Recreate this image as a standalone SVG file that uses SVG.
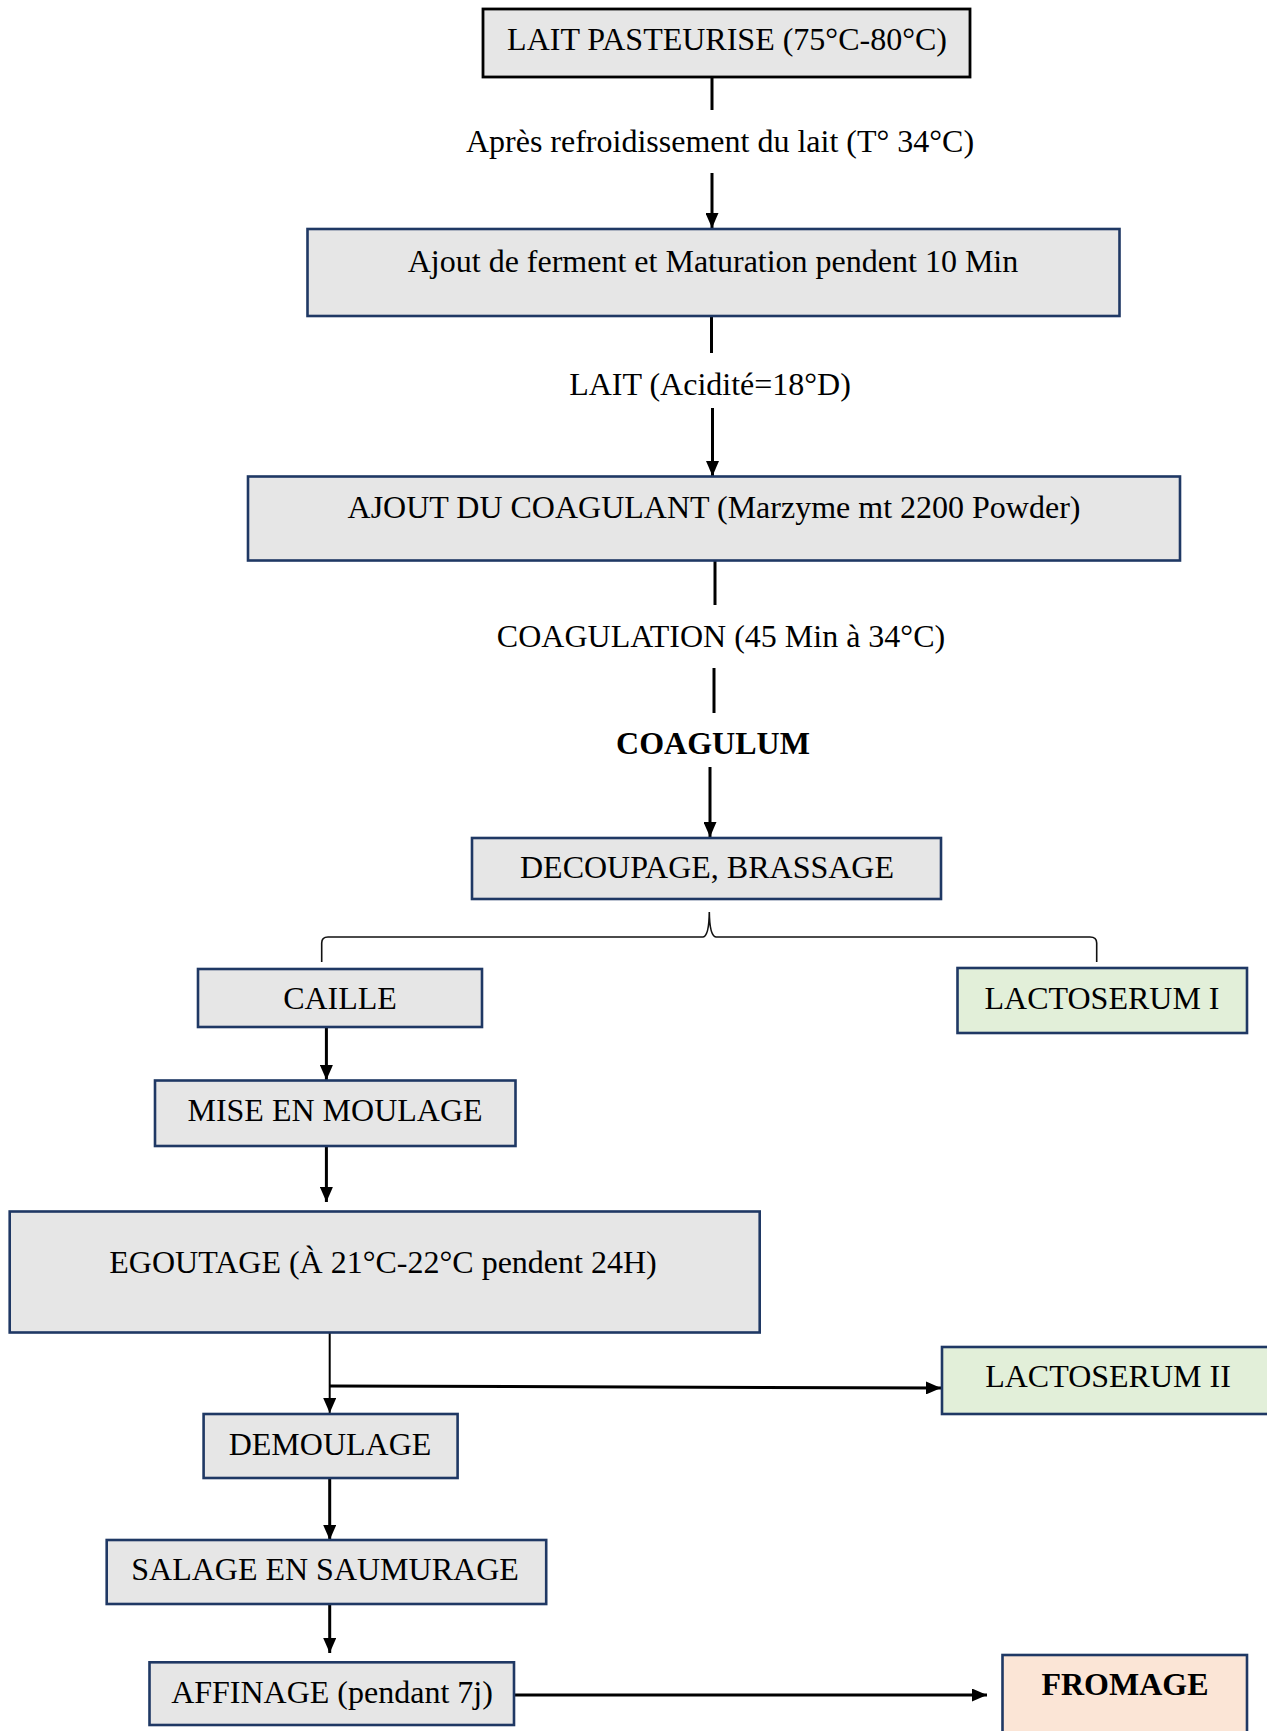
<svg xmlns="http://www.w3.org/2000/svg" width="1267" height="1731" viewBox="0 0 1267 1731">
<defs>
<style>
text{font-family:"Liberation Serif","Times New Roman",serif;font-size:32px;fill:#000;text-anchor:middle}
.b{font-weight:bold}
.box{fill:#e6e6e6;stroke:#1f3864;stroke-width:2.6}
.box1{fill:#e6e6e6;stroke:#000;stroke-width:2.8}
.green{fill:#e2efd9;stroke:#1f3864;stroke-width:2.6}
.peach{fill:#fbe5d6;stroke:#1f3864;stroke-width:2.6}
.ln{stroke:#000;stroke-width:3;fill:none}
.thin{stroke:#000;stroke-width:2;fill:none}
.brace{stroke:#111;stroke-width:1.6;fill:none}
</style>
<marker id="ah" markerUnits="userSpaceOnUse" viewBox="0 0 15 13" markerWidth="15" markerHeight="13" refX="15" refY="6.5" orient="auto">
<path d="M0,0 L15,6.5 L0,13 z" fill="#000"/>
</marker>
</defs>
<rect width="1267" height="1731" fill="#fff"/>

<g id="connectors">
<line class="ln" x1="712" y1="77" x2="712" y2="110"/>
<line class="ln" x1="712" y1="173" x2="712" y2="228" marker-end="url(#ah)"/>
<line class="ln" x1="711.5" y1="316" x2="711.5" y2="353"/>
<line class="ln" x1="712.5" y1="408" x2="712.5" y2="476" marker-end="url(#ah)"/>
<line class="ln" x1="715" y1="561" x2="715" y2="605"/>
<line class="ln" x1="714" y1="668" x2="714" y2="713"/>
<line class="ln" x1="710" y1="767" x2="710" y2="837" marker-end="url(#ah)"/>
<path class="brace" d="M321.7,962 L321.7,943 Q321.7,937 328,937 L703,937 Q709,936 709.3,912 Q709.6,936 716,937 L1090,937 Q1096.7,937 1096.7,943 L1096.7,962"/>
<line class="ln" x1="326.4" y1="1027" x2="326.4" y2="1080" marker-end="url(#ah)"/>
<line class="ln" x1="326.4" y1="1146" x2="326.4" y2="1202" marker-end="url(#ah)"/>
<line class="thin" x1="329.7" y1="1333" x2="329.7" y2="1413" marker-end="url(#ah)"/>
<line class="ln" x1="329.7" y1="1386" x2="941" y2="1388" marker-end="url(#ah)"/>
<line class="ln" x1="329.7" y1="1478" x2="329.7" y2="1540" marker-end="url(#ah)"/>
<line class="ln" x1="329.7" y1="1604" x2="329.7" y2="1653" marker-end="url(#ah)"/>
<line class="ln" x1="514" y1="1695" x2="987" y2="1695" marker-end="url(#ah)"/>
</g>

<g id="n1"><rect class="box1" x="483" y="9" width="487" height="68"/><text x="727" y="50">LAIT PASTEURISE (75°C-80°C)</text></g>
<g id="l1"><text x="720" y="152">Après refroidissement du lait (T° 34°C)</text></g>
<g id="n2"><rect class="box" x="307.5" y="229" width="812" height="87"/><text x="713" y="272">Ajout de ferment et Maturation pendent 10 Min</text></g>
<g id="l2"><text x="710" y="395">LAIT (Acidité=18°D)</text></g>
<g id="n3"><rect class="box" x="248" y="476.5" width="932" height="84"/><text x="714" y="518">AJOUT DU COAGULANT (Marzyme mt 2200 Powder)</text></g>
<g id="l3"><text x="721" y="647">COAGULATION (45 Min à 34°C)</text></g>
<g id="l4"><text class="b" x="713" y="754">COAGULUM</text></g>
<g id="n4"><rect class="box" x="472" y="838" width="469" height="61"/><text x="707" y="878">DECOUPAGE, BRASSAGE</text></g>
<g id="n5"><rect class="box" x="198" y="969" width="284" height="58"/><text x="340" y="1009">CAILLE</text></g>
<g id="n6"><rect class="green" x="957.5" y="968" width="289.5" height="65"/><text x="1102" y="1009">LACTOSERUM I</text></g>
<g id="n7"><rect class="box" x="155" y="1080.5" width="360.5" height="65.5"/><text x="335" y="1121">MISE EN MOULAGE</text></g>
<g id="n8"><rect class="box" x="9.7" y="1211.5" width="750" height="121"/><text x="383" y="1273">EGOUTAGE (À 21°C-22°C pendent 24H)</text></g>
<g id="n9"><rect class="green" x="942" y="1347" width="340" height="67"/><text x="1108" y="1387">LACTOSERUM II</text></g>
<g id="n10"><rect class="box" x="203.6" y="1414" width="254" height="64"/><text x="330" y="1455">DEMOULAGE</text></g>
<g id="n11"><rect class="box" x="106.7" y="1540" width="439.5" height="64"/><text x="325" y="1580">SALAGE EN SAUMURAGE</text></g>
<g id="n12"><rect class="box" x="149.5" y="1662.3" width="364.5" height="62.7"/><text x="332" y="1703">AFFINAGE (pendant 7j)</text></g>
<g id="n13"><rect class="peach" x="1002.5" y="1655" width="244.5" height="100"/><text class="b" x="1125" y="1695">FROMAGE</text></g>
</svg>
